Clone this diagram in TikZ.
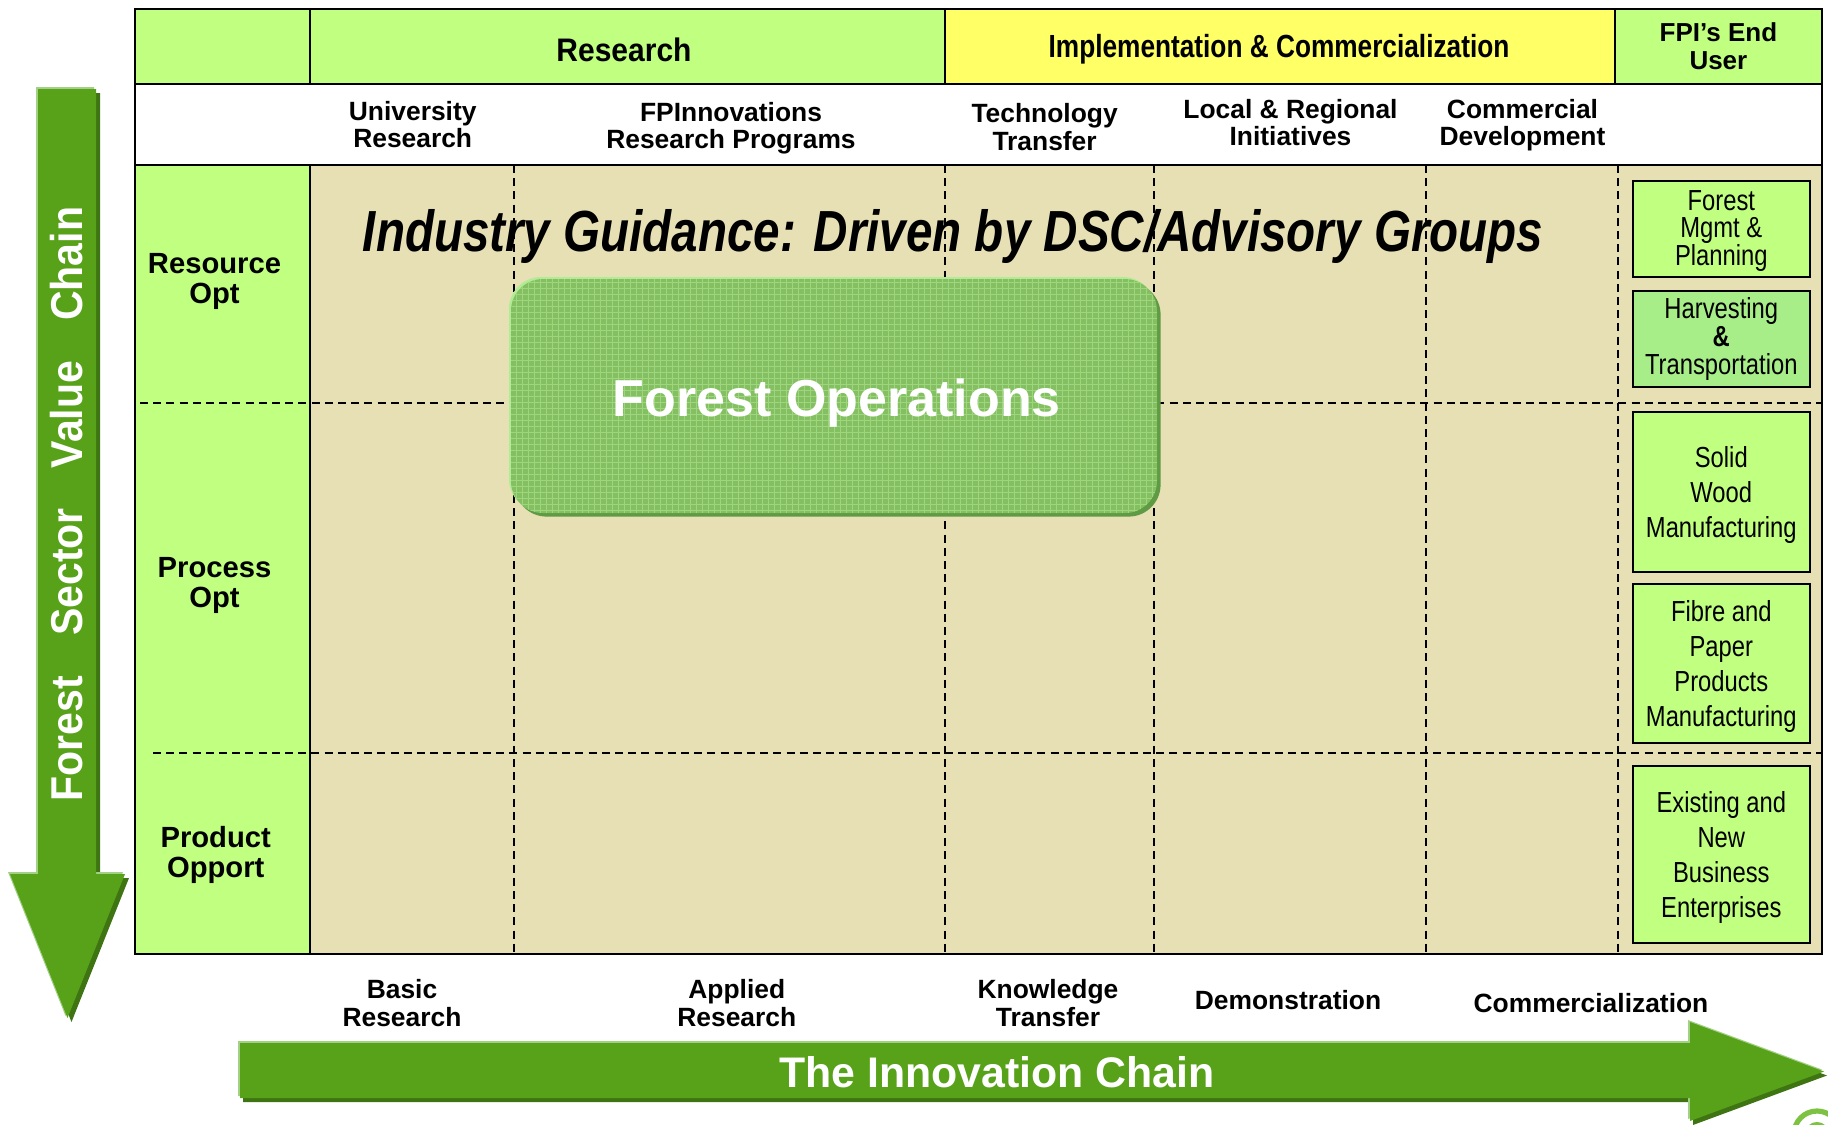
\documentclass[tikz,border=0pt]{standalone}
\usepackage{fontspec}
\setmainfont{Liberation Sans}
\newfontfamily\narrowfont{Liberation Sans}[FakeStretch=0.82]
\newfontfamily\semifont{Liberation Sans}[FakeStretch=0.92]
\definecolor{lgreen}{HTML}{C0FF80}
\definecolor{hgreen}{HTML}{A8EE88}
\definecolor{yel}{HTML}{FFFF66}
\definecolor{tanbg}{HTML}{E6E0B4}
\definecolor{arrowg}{HTML}{58A21A}
\definecolor{arrowdark}{HTML}{3E7412}
\definecolor{arrowlight}{HTML}{A2D084}
\definecolor{opsg}{HTML}{84C062}
\definecolor{opsgrid}{HTML}{9DD67E}
\definecolor{opsdark}{HTML}{5F9A44}
\definecolor{opslight}{HTML}{B2EB95}
\definecolor{logog}{HTML}{7DC242}
\tikzset{
  sub/.style={inner sep=0pt, align=center, font=\bfseries\fontsize{13.2}{13.6}\selectfont},
  bot/.style={inner sep=0pt, align=center, font=\bfseries\fontsize{13.2}{14}\selectfont},
  rowlab/.style={inner sep=0pt, align=center, font=\bfseries\fontsize{14.6}{15}\selectfont},
  userbox/.style={draw=black, line width=1pt, fill=lgreen, align=center, inner sep=0pt,
     minimum width=88.25pt},
  boxfont/.style={font=\narrowfont\fontsize{14.5}{#1}\selectfont},
  dashln/.style={black, line width=0.6pt, dash pattern=on 4pt off 2.6pt},
  solidln/.style={black, line width=1pt},
  opsbox/.style={rounded corners=16pt, minimum width=323pt, minimum height=117pt, inner sep=0pt,
     fill=opsg,
     preaction={fill=opsdark, transform canvas={shift={(1.8pt,-1.8pt)}}},
     preaction={fill=opslight, transform canvas={shift={(-1pt,1pt)}}},
     path picture={\draw[opsgrid, line width=0.45pt] (path picture bounding box.south west) grid[step=3pt] (path picture bounding box.north east);}},
}
\begin{document}
\begin{tikzpicture}[x=0.5pt,y=-0.5pt]
\useasboundingbox (0,0) rectangle (1828,1125);
\fill[white] (0,0) rectangle (1828,1125);

% table fills
\fill[lgreen] (135,9) rectangle (945,84);
\fill[yel] (945,9) rectangle (1615,84);
\fill[lgreen] (1615,9) rectangle (1822,84);
\fill[white] (135,84) rectangle (1822,165);
\fill[lgreen] (135,165) rectangle (310,954);
\fill[tanbg] (310,165) rectangle (1822,954);

% dashed grid
\draw[dashln] (140,403) -- (1822,403);
\draw[dashln] (153,753) -- (1822,753);
\foreach \xx in {514,945,1154,1426,1618}
  \draw[dashln] (\xx,165) -- (\xx,954);

% solid lines
\draw[solidln] (135,84) -- (1822,84);
\draw[solidln] (135,165) -- (1822,165);
\draw[solidln] (310,9) -- (310,84);
\draw[solidln] (945,9) -- (945,84);
\draw[solidln] (1615,9) -- (1615,84);
\draw[solidln] (310,165) -- (310,954);
\draw[black, line width=1.2pt] (135,9) rectangle (1822,954);

% header texts
\node[inner sep=0pt, anchor=base, font=\semifont\bfseries\fontsize{16.3}{18}\selectfont] (rs) at (624,61.7) {Research};
\node[inner sep=0pt, anchor=base, font=\narrowfont\bfseries\fontsize{16}{18}\selectfont] (ic) at (1279,57) {Implementation \& Commercialization};
\node[inner sep=0pt, align=center, font=\bfseries\fontsize{13}{14}\selectfont] (fe) at (1718.4,46.6) {FPI’s End\\User};

% sub headers
\node[sub] (ur) at (412.7,124.7) {University\\Research};
\node[sub] (fp) at (731,128.2) {FPInnovations\\Research Programs};
\node[sub] (tt) at (1044.6,127) {Technology\\Transfer};
\node[sub] (lr) at (1290.5,122.4) {Local \& Regional\\Initiatives};
\node[sub] (cd) at (1522.5,125) {Commercial\\Development};

% row labels
\node[rowlab] (ro) at (214.5,281) {Resource\\Opt};
\node[rowlab] (po) at (214.5,585.5) {Process\\Opt};
\node[rowlab] (pp) at (215.7,854.5) {Product\\Opport};

% industry guidance
\node[inner sep=0pt, anchor=base, font=\narrowfont\bfseries\itshape\fontsize{29}{32}\selectfont] (ig) at (953,251.5) {Industry Guidance: Driven by DSC/Advisory Groups};

% forest operations
\node[opsbox] (ops) at (834,396) {};
\node[inner sep=0pt, anchor=base, text=white, font=\bfseries\fontsize{26}{30}\selectfont] (opst) at (836.8,416.7) {Forest Operations};

% end user boxes
\node[userbox, minimum height=48.25pt] (fm) at (1721.3,228.8) {};
\node[inner sep=0pt, align=center, boxfont=13.8] (fmt) at (1721.3,231) {Forest\\Mgmt \&\\Planning};
\node[userbox, fill=hgreen, minimum height=48.25pt, boxfont=14] (ht) at (1721.3,338.8) {Harvesting\\\textbf{\&}\\Transportation};
\node[userbox, minimum height=80.25pt] (sw) at (1721.3,491.8) {};
\node[inner sep=0pt, align=center, boxfont=17.5] (swt) at (1721.3,495.3) {Solid\\Wood\\Manufacturing};
\node[userbox, minimum height=79.75pt] (fb) at (1721.3,663.3) {};
\node[inner sep=0pt, align=center, boxfont=17.5] (fbt) at (1721.3,666) {Fibre and\\Paper\\Products\\Manufacturing};
\node[userbox, minimum height=88.5pt] (ex) at (1721.3,854.5) {};
\node[inner sep=0pt, align=center, boxfont=17.5] (ext) at (1721.3,857) {Existing and\\New\\Business\\Enterprises};

% bottom labels
\node[bot] (br) at (402,1002.6) {Basic\\Research};
\node[bot] (ar) at (736.8,1002.6) {Applied\\Research};
\node[bot] (kt) at (1048,1002.6) {Knowledge\\Transfer};
\node[bot] (dm) at (1288,1000) {Demonstration};
\node[bot] (cm) at (1591,1002.6) {Commercialization};

% vertical arrow (Forest Sector Value Chain)
\def\varrow{(38,89) -- (96,89) -- (96,874) -- (125,874) -- (67.5,1018) -- (10,874) -- (38,874) -- cycle}
\fill[arrowdark, shift={(4,4)}] \varrow;
\fill[arrowlight, shift={(-2,-2)}] \varrow;
\fill[arrowg] \varrow;
\node[rotate=90, inner sep=0pt, text=white, font=\semifont\bfseries\fontsize{22.3}{24}\selectfont] (fsvc) at (67,504) {Forest\hspace{20pt}Sector\hspace{20pt}Value\hspace{20pt}Chain};

% horizontal arrow (The Innovation Chain)
\def\harrow{(240,1043) -- (1690,1043) -- (1690,1022) -- (1824,1071.5) -- (1690,1121) -- (1690,1098) -- (240,1098) -- cycle}
\fill[arrowdark, shift={(3,4)}] \harrow;
\fill[arrowlight, shift={(-2,-2)}] \harrow;
\fill[arrowg] \harrow;
\node[inner sep=0pt, anchor=base, text=white, font=\bfseries\fontsize{21.4}{24}\selectfont] (inn) at (997,1087.3) {The Innovation Chain};

% partial logo at corner
\begin{scope}
\clip (0,0) rectangle (1828,1125);
\draw[logog, line width=2.6pt] (1817,1134) circle (23);
\draw[logog, line width=2pt] (1817,1134) circle (10);
\end{scope}
\end{tikzpicture}
\end{document}
